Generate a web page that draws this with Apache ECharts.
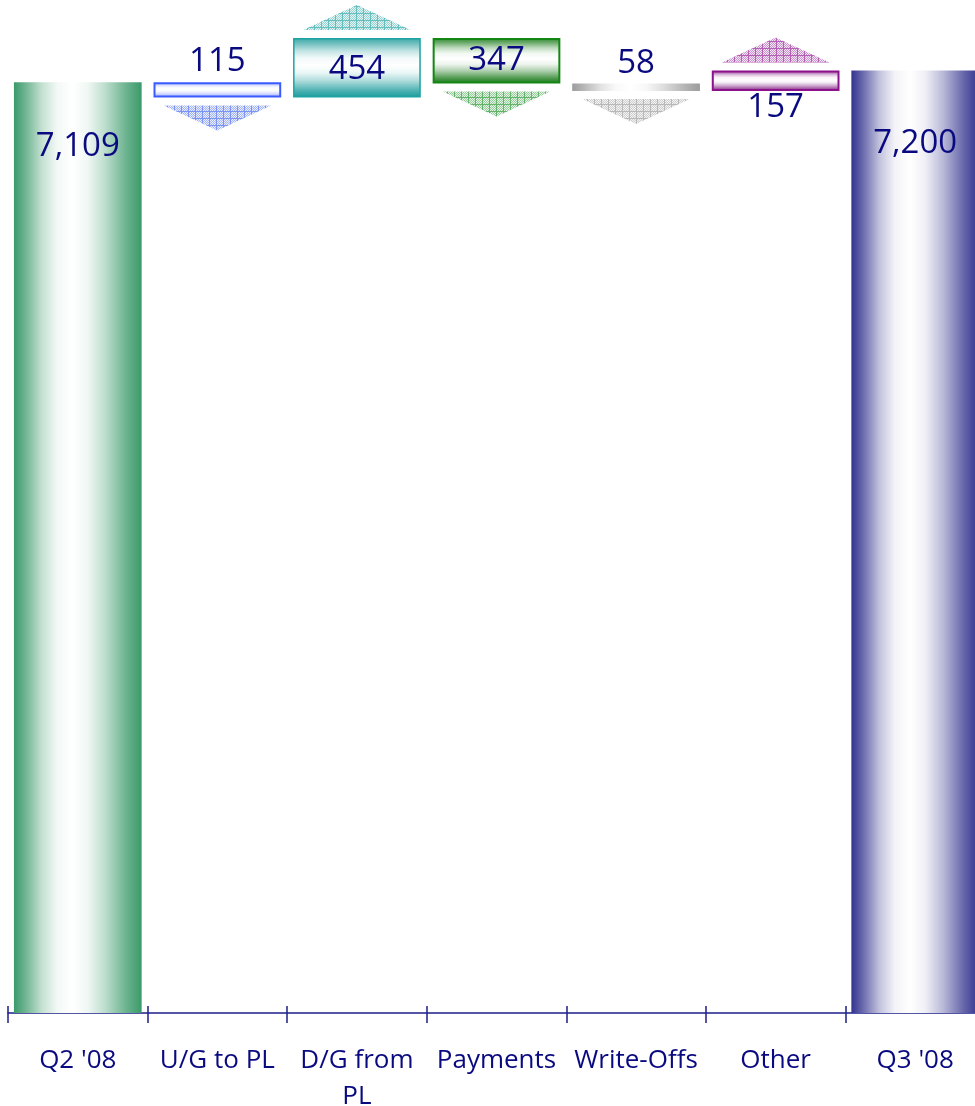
<!DOCTYPE html>
<html>
<head>
<meta charset="utf-8">
<script src="https://cdn.jsdelivr.net/npm/echarts@6/dist/echarts.min.js"></script>
<style>
  html, body { margin: 0; padding: 0; background: #ffffff; }
  #chart { width: 975px; height: 1106px; }
</style>
</head>
<body>
<div id="chart"></div>
<script>
// Quarter-over-quarter bridge: opening balance, movements, closing balance
const categories = ["Q2 '08", 'U/G to PL', 'D/G from\nPL', 'Payments', 'Write-Offs', 'Other', "Q3 '08"];
const openingBalance = 7109;
const movements = [-115, 454, -347, -58, 157];
const closingBalance = 7200;

// Running totals give the floating base of each movement bar
const bases = [0];
const heights = [openingBalance];
const arrows = [];
let running = openingBalance;
movements.forEach(function (m, k) {
  const next = running + m;
  const lo = Math.min(running, next);
  const hi = Math.max(running, next);
  bases.push(lo);
  heights.push(hi - lo);
  arrows.push([k + 1, lo, hi, m > 0 ? 1 : -1]);
  running = next;
});
bases.push(0);
heights.push(closingBalance);

const NAVY = '#0a0a80';
const AXIS = '#1e1e8a';
const FONT = '"Open Sans", "Noto Sans", sans-serif';

function mix(hex, t) {
  // t = share of white
  const n = parseInt(hex.slice(1), 16);
  const r = (n >> 16) & 255, g = (n >> 8) & 255, b = n & 255;
  const f = function (v) { return Math.round(v + (255 - v) * t); };
  return 'rgb(' + f(r) + ',' + f(g) + ',' + f(b) + ')';
}
// Cylinder-like shading: saturated edges, broad white highlight
function shade(edge, x2, y2, edge2) {
  const e2 = edge2 || edge;
  return new echarts.graphic.LinearGradient(0, 0, x2, y2, [
    { offset: 0, color: edge },
    { offset: 0.1, color: mix(edge, 0.3) },
    { offset: 0.22, color: mix(edge, 0.7) },
    { offset: 0.34, color: mix(edge, 0.94) },
    { offset: 0.46, color: '#ffffff' },
    { offset: 0.58, color: mix(e2, 0.92) },
    { offset: 0.72, color: mix(e2, 0.65) },
    { offset: 0.88, color: mix(e2, 0.25) },
    { offset: 1, color: e2 }
  ]);
}

// Fine cross-hatched mesh used to fill the direction arrows
function mesh(color) {
  const s = 7;
  const c = document.createElement('canvas');
  c.width = s; c.height = s;
  const g = c.getContext('2d');
  g.fillStyle = color;
  for (let y = 0; y < s; y++) {
    for (let x = 0; x < s; x++) {
      if (x === s - 1 || y === s - 1) { g.globalAlpha = 0.75; g.fillRect(x, y, 1, 1); }
      else if ((x + y) % 2 === 0) { g.globalAlpha = 0.5; g.fillRect(x, y, 1, 1); }
      else { g.globalAlpha = 0.12; g.fillRect(x, y, 1, 1); }
    }
  }
  return { image: c, repeat: 'repeat' };
}

const barStyles = [
  { color: shade('#3a9a6a', 1, 0) },
  { color: shade('#98aaff', 0, 1), borderColor: '#3a5cff', borderWidth: 2 },
  { color: shade('#3aa6a6', 0, 1, '#179a9a'), borderColor: '#1ea3a3', borderWidth: 1.5 },
  { color: shade('#2a862a', 0, 1, '#1a7a1a'), borderColor: '#138613', borderWidth: 2 },
  { color: shade('#9c9c9c', 1, 0) },
  { color: shade('#943a94', 0, 1, '#862686'), borderColor: '#8c128c', borderWidth: 2 },
  { color: shade('#33338f', 1, 0) }
];
const arrowFills = {
  1: mesh('#4d6ff0'),
  2: mesh('#30a8a8'),
  3: mesh('#2f9a3a'),
  4: mesh('#a0a0a0'),
  5: mesh('#9a2a9a')
};

// Label placement per bar (relative to the bar rectangle)
const labelPos = [
  { position: ['50%', 64] },
  { position: ['50%', -21] },
  { position: ['50%', '50%'], offset: [0, 2] },
  { position: ['50%', '50%'] },
  { position: ['50%', -20] },
  { position: ['50%', '100%'], offset: [0, 17] },
  { position: ['50%', 73] }
];
const labelValues = [openingBalance].concat(movements.map(Math.abs), [closingBalance]);

const barData = heights.map(function (h, i) {
  return {
    value: h,
    itemStyle: barStyles[i],
    label: Object.assign({
      show: true,
      align: 'center',
      verticalAlign: 'middle',
      formatter: labelValues[i].toLocaleString('en-US'),
      color: NAVY,
      fontSize: 33,
      fontFamily: FONT
    }, labelPos[i])
  };
});

const chart = echarts.init(document.getElementById('chart'), null, { renderer: 'canvas' });
chart.setOption({
  animation: false,
  backgroundColor: '#ffffff',
  grid: { left: 8, top: 5, width: 977, height: 1008, outerBoundsMode: 'none', containLabel: false },
  xAxis: [
    {
      type: 'category',
      data: categories,
      axisLine: { show: true, lineStyle: { color: AXIS, width: 1.5 } },
      axisTick: { show: true, length: 10, lineStyle: { color: AXIS, width: 1.5 } },
      axisLabel: {
        interval: 0, color: NAVY, fontSize: 26, fontFamily: FONT,
        margin: 30, lineHeight: 36
      }
    },
    {
      type: 'category',
      data: categories,
      position: 'bottom',
      offset: 0,
      axisLine: { show: false },
      axisTick: { show: true, inside: true, length: 7, lineStyle: { color: AXIS, width: 1.5 } },
      axisLabel: { show: false }
    }
  ],
  yAxis: { type: 'value', min: 0, max: 7700, show: false },
  series: [
    {
      type: 'bar', stack: 'bridge', barWidth: '91.5%', silent: true,
      itemStyle: { color: 'transparent' },
      data: bases
    },
    {
      type: 'bar', stack: 'bridge', barWidth: '91.5%',
      data: barData
    },
    {
      type: 'custom',
      data: arrows,
      encode: { x: 0, y: [1, 2] },
      renderItem: function (params, api) {
        const i = api.value(0);
        const lo = api.value(1);
        const hi = api.value(2);
        const dir = api.value(3);
        const top = api.coord([i, hi]);
        const bottom = api.coord([i, lo]);
        const half = api.size([1, 0])[0] * 0.385;
        const cx = top[0];
        let pts;
        if (dir > 0) {
          const base = top[1] - 8;
          pts = [[cx - half, base], [cx + half, base], [cx, base - 25]];
        } else {
          const base = bottom[1] + 8;
          pts = [[cx - half, base], [cx + half, base], [cx, base + 25]];
        }
        return { type: 'polygon', shape: { points: pts }, style: { fill: arrowFills[i] } };
      }
    }
  ]
});
</script>
</body>
</html>
